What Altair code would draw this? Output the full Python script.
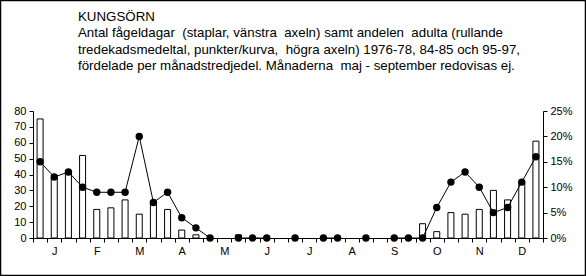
import altair as alt
import pandas as pd

FONT = "Liberation Sans Narrow, Arial Narrow, Liberation Sans, Arial, sans-serif"

months = ["J", "F", "M", "A", "M", "J", "J", "A", "S", "O", "N", "D"]
slots = list(range(36))
# bird-days per month-third (left axis)
birddays = [75, 38, 41, 52, 18, 19, 24, 15, 22, 18, 5, 2,
            None, None, 2, None, None, None, None, None, None, None, None, None,
            None, None, None, 9, 4, 16, 15, 18, 30, 24, 35, 61]
# share of adults, rolling mean (right axis)
adults = [0.15, 0.12, 0.13, 0.10, 0.09, 0.09, 0.09, 0.20, 0.07, 0.09, 0.04, 0.02,
          0.0, None, 0.0, 0.0, 0.0, None, 0.0, None, 0.0, 0.0, None, 0.0,
          None, 0.0, 0.0, 0.0, 0.06, 0.11, 0.13, 0.10, 0.05, 0.06, 0.11, 0.16]

NB = "\u00a0"
title_lines = [
    "KUNGSÖRN",
    f"Antal fågeldagar {NB}(staplar, vänstra {NB}axeln) samt andelen {NB}adulta (rullande",
    f"tredekadsmedeltal, punkter/kurva, {NB}högra axeln) 1976-78, 84-85 och 95-97,",
    f"fördelade per månadstredjedel. Månaderna {NB}maj - september redovisas ej.",
]

df = pd.DataFrame({"slot": slots, "birds": birddays, "adults": adults})
one = pd.DataFrame({"k": [0]})
month_js = "[" + ",".join(f"'{m}'" for m in months) + "]"

xenc = alt.X(
    "slot:O",
    scale=alt.Scale(paddingInner=0, paddingOuter=0),
    axis=alt.Axis(
        title=None,
        labelAngle=0,
        tickBand="extent",
        tickSize=4,
        labelExpr=f"datum.value % 3 == 1 ? {month_js}[floor(datum.value / 3)] : ''",
        labelFont=FONT,
        labelFontSize=11,
        labelColor="black",
        labelPadding=3,
        domainColor="black",
        tickColor="black",
    ),
)

bars = alt.Chart(df).mark_bar(size=6, fill="white", stroke="black", strokeWidth=1).encode(
    x=xenc,
    y=alt.Y(
        "birds:Q",
        scale=alt.Scale(domain=[0, 80], nice=False),
        axis=alt.Axis(
            title=None, values=list(range(0, 81, 10)), tickSize=4, grid=False,
            labelFont=FONT, labelFontSize=11, labelColor="black",
            domainColor="black", tickColor="black", labelPadding=3,
        ),
    ),
)

line = alt.Chart(df).mark_line(color="black", strokeWidth=1).encode(
    x=xenc,
    y=alt.Y(
        "adults:Q",
        scale=alt.Scale(domain=[0, 0.25], nice=False),
        axis=alt.Axis(
            title=None, orient="right", values=[0, 0.05, 0.10, 0.15, 0.20, 0.25],
            format=".0%", tickSize=4, grid=False,
            labelFont=FONT, labelFontSize=11, labelColor="black",
            domainColor="black", tickColor="black", labelPadding=3,
        ),
    ),
)

points = alt.Chart(df).mark_circle(color="black", opacity=1, size=55).encode(
    x=xenc,
    y=alt.Y("adults:Q", scale=alt.Scale(domain=[0, 0.25], nice=False), axis=None),
)

title_text = alt.Chart(one).mark_text(
    text=title_lines, align="left", baseline="alphabetic", lineHeight=16.3,
    font=FONT, fontSize=13.3, color="black",
).encode(x=alt.value(45), y=alt.value(-90))

frame = alt.Chart(one).mark_rect(fill=None, stroke="black", strokeWidth=1.5).encode(
    x=alt.value(-32.5), x2=alt.value(552.5), y=alt.value(-110.5), y2=alt.value(164.5)
)

chart = alt.layer(bars, line, points, title_text, frame).resolve_scale(y="independent").properties(
    width=510,
    height=127,
    padding={"left": 33, "top": 111, "right": 43, "bottom": 38},
    autosize=alt.AutoSizeParams(type="none"),
    background="white",
).configure_view(stroke=None)

chart.save("out.html", embed_options={"renderer": "svg", "actions": False})
